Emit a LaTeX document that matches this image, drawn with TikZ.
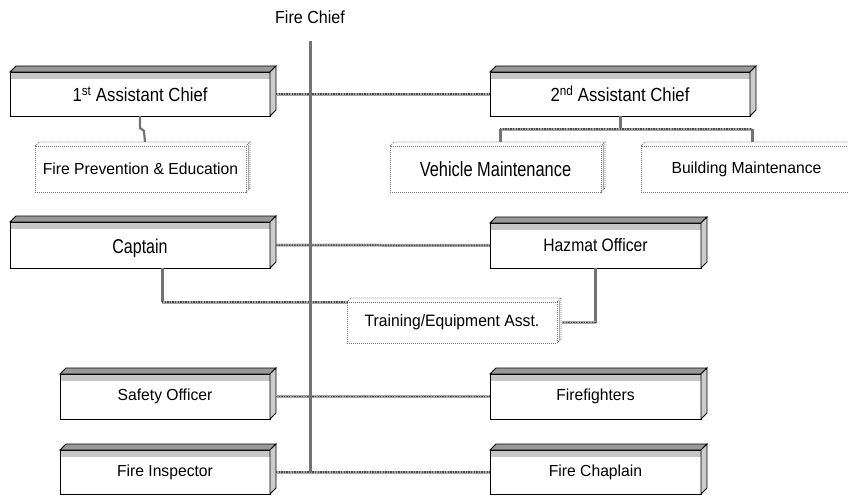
\documentclass[tikz,border=0pt]{standalone}
\usepackage{fontspec}
\setmainfont{Liberation Sans}
\usepackage{graphicx}
\usetikzlibrary{calc}
\newcommand{\lbl}[3]{{\fontsize{#1pt}{#1pt}\selectfont\scalebox{#2}[1]{#3}}}
\tikzset{
  sbox/.style={draw=black, fill=white, line width=0.8pt, inner sep=0pt, outer sep=0pt,
    path picture={\fill[black!22] (path picture bounding box.north west) rectangle ([yshift=-7pt]path picture bounding box.north east);}},
  dbox/.style={draw=black!55, fill=white, line width=0.9pt, dash pattern=on 1pt off 1pt, inner sep=0pt, outer sep=0pt},
  dface/.style={draw=black!55, line width=0.9pt, dash pattern=on 1pt off 1pt},
  hline/.style={draw=black!35, line width=3pt, postaction={draw=black!70, line width=1.5pt, dash pattern=on 1.3pt off 1.3pt}},
  vline/.style={draw=black!55, line width=3pt},
  thinvline/.style={draw=black!55, line width=2.2pt},
}
\newcommand{\solidfaces}[1]{%
  \filldraw[fill=black!40, draw=black, line width=0.8pt] (#1.north west) -- ++(6,-6) -- ($(#1.north east)+(6,-6)$) -- (#1.north east) -- cycle;
  \filldraw[fill=black!20, draw=black, line width=0.8pt] (#1.north east) -- ++(6,-6) -- ($(#1.south east)+(6,-6)$) -- (#1.south east) -- cycle;
}
\newcommand{\dottedfaces}[1]{%
  \draw[dface] (#1.north west) -- ++(4,-4) -- ($(#1.north east)+(4,-4)$) -- (#1.north east);
  \draw[dface] ($(#1.north east)+(4,-4)$) -- ($(#1.south east)+(4,-4)$) -- (#1.south east);
  \draw[black!35, line width=0.7pt] ($(#1.north east)+(2,-1)$) -- ($(#1.south east)+(2,-3)$);
}
\begin{document}
\begin{tikzpicture}[x=1pt, y=-1pt]
\useasboundingbox (0,0) rectangle (848,495);
\clip (0,0) rectangle (848,495);

% nodes
\node (chief) at (310,17) {\lbl{17.5}{0.92}{Fire Chief}};
\coordinate (ctop) at (310,41);
\coordinate (cbot) at (310,472);

\node[sbox, minimum width=260pt, minimum height=44pt] (ac1) at (140,94) {\lbl{19}{0.88}{1\textsuperscript{st} Assistant Chief}};
\node[sbox, minimum width=260pt, minimum height=44pt] (ac2) at (620,94) {\lbl{19}{0.88}{2\textsuperscript{nd} Assistant Chief}};
\node[dbox, minimum width=211pt, minimum height=46pt] (fpe) at (140.5,169) {\lbl{16}{0.98}{Fire Prevention \& Education}};
\node[dbox, minimum width=211pt, minimum height=46pt] (veh) at (495.5,169) {\lbl{20.5}{0.8}{Vehicle Maintenance}};
\node[dbox, minimum width=211pt, minimum height=46pt] (bld) at (746.5,169) {\lbl{16}{0.98}{Building Maintenance}};
\node[sbox, minimum width=260pt, minimum height=46pt] (cap) at (140,245) {\raisebox{-3pt}[\height][\depth]{\lbl{20}{0.8}{Captain}}};
\node[sbox, minimum width=211pt, minimum height=45pt] (haz) at (595.5,245.5) {\lbl{18}{0.87}{Hazmat Officer}};
\node[dbox, minimum width=210pt, minimum height=41pt] (trn) at (452,322.5) {\lbl{16.5}{0.95}{Training/Equipment Asst.}};
\node[sbox, minimum width=210pt, minimum height=45pt] (safe) at (165,396.5) {\lbl{16}{0.98}{Safety Officer}};
\node[sbox, minimum width=211pt, minimum height=45pt] (ff) at (595.5,396.5) {\lbl{16}{0.98}{Firefighters}};
\node[sbox, minimum width=210pt, minimum height=44pt] (insp) at (165,472) {\lbl{16}{0.98}{Fire Inspector}};
\node[sbox, minimum width=211pt, minimum height=44pt] (chap) at (595.5,472) {\lbl{16}{0.98}{Fire Chaplain}};

\solidfaces{ac1}
\solidfaces{ac2}
\solidfaces{cap}
\solidfaces{haz}
\solidfaces{safe}
\solidfaces{ff}
\solidfaces{insp}
\solidfaces{chap}
\dottedfaces{fpe}
\dottedfaces{veh}
\dottedfaces{bld}
\dottedfaces{trn}

% connectors
\draw[hline] ([xshift=6pt]ac1.east) -- (ac2.west);
\draw[hline] ([xshift=6pt]cap.east) -- (haz.west);
\draw[hline] ([xshift=6pt]safe.east) -- (ff.west);
\draw[hline] ([xshift=6pt]insp.east) -- (chap.west);

\draw[vline] (ac2.south) -- ++(0,13) coordinate (j2);
\draw[hline] ([xshift=4.5pt]veh.north |- j2) -- ([xshift=5.5pt]bld.north |- j2);
\draw[vline] ([xshift=4.5pt]veh.north |- j2) -- ([xshift=4.5pt,yshift=4pt]veh.north);
\draw[vline] ([xshift=5.5pt]bld.north |- j2) -- ([xshift=5.5pt,yshift=4pt]bld.north);

\draw[thinvline] (ac1.south) -- ++(0,12) -- ++(4,3) -- ([xshift=4.5pt,yshift=4pt]fpe.north);

\draw[vline] ([xshift=22pt]cap.south) -- ([xshift=22pt]cap.south |- trn.north west);
\draw[hline] ([xshift=22pt]cap.south |- trn.north west) -- (trn.north west);
\draw[vline] (haz.south) -- (haz.south |- trn.east);
\draw[hline] (haz.south |- trn.east) -- ([xshift=5pt]trn.east);

\draw[vline] (ctop) -- (cbot);
\end{tikzpicture}
\end{document}
